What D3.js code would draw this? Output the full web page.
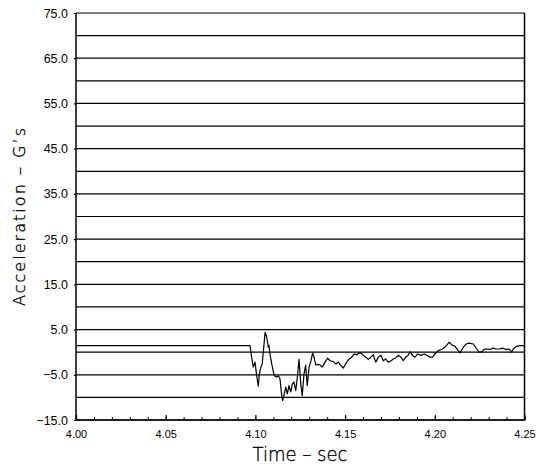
<!DOCTYPE html>
<html>
<head>
<meta charset="utf-8">
<script src="https://cdn.jsdelivr.net/npm/d3@7"></script>
<style>
  body { margin: 0; background: #fff; }
  text { font-family: "Liberation Sans", Arial, sans-serif; fill: #000; }
  .title { font-family: "DejaVu Sans", sans-serif; font-weight: 200; stroke: #000; stroke-width: 0.35; }
</style>
</head>
<body>
<div id="chart"></div>
<script>
// time (sec) and acceleration (G's)
var time = [
    4.0000, 4.0970, 4.0979, 4.0988, 4.0998, 4.1007, 4.1016, 4.1022, 4.1031, 4.1038,
    4.1044, 4.1054, 4.1063, 4.1072, 4.1076, 4.1081, 4.1091, 4.1105, 4.1119, 4.1128,
    4.1137, 4.1147, 4.1152, 4.1161, 4.1169, 4.1178, 4.1187, 4.1197, 4.1206, 4.1215,
    4.1225, 4.1234, 4.1243, 4.1253, 4.1261, 4.1271, 4.1280, 4.1289, 4.1299, 4.1308,
    4.1319, 4.1327, 4.1336, 4.1347, 4.1360, 4.1373, 4.1388, 4.1403, 4.1416, 4.1434,
    4.1448, 4.1462, 4.1477, 4.1490, 4.1509, 4.1523, 4.1537, 4.1551, 4.1565, 4.1577,
    4.1589, 4.1601, 4.1615, 4.1629, 4.1644, 4.1657, 4.1671, 4.1685, 4.1700, 4.1713,
    4.1726, 4.1741, 4.1756, 4.1769, 4.1782, 4.1797, 4.1812, 4.1824, 4.1838, 4.1852,
    4.1862, 4.1875, 4.1890, 4.1905, 4.1923, 4.1941, 4.1955, 4.1973, 4.1988, 4.2001,
    4.2019, 4.2038, 4.2057, 4.2081, 4.2094, 4.2113, 4.2125, 4.2140, 4.2159, 4.2174,
    4.2192, 4.2215, 4.2234, 4.2248, 4.2261, 4.2274, 4.2289, 4.2308, 4.2326, 4.2341,
    4.2360, 4.2378, 4.2397, 4.2415, 4.2428, 4.2437, 4.2456, 4.2475, 4.2500
];
var accel = [
    1.45, 1.45, -1.1, -3.3, -2.2, -5.2, -7.5, -4.8, -3.3, -2.6,
    0.0, 4.4, 3.3, 1.1, 1.5, -0.4, -2.6, -5.2, -5.5, -5.2,
    -5.9, -9.6, -10.7, -9.2, -7.7, -9.2, -7.4, -8.8, -7.0, -6.6,
    -8.5, -5.5, -1.6, -7.0, -9.6, -4.8, -2.9, -7.4, -3.3, -2.2,
    -0.2, -1.1, -2.8, -2.7, -2.8, -3.3, -2.2, -1.3, -1.9, -2.1,
    -2.6, -2.2, -3.0, -3.5, -2.2, -1.5, -1.1, -0.4, -0.6, -0.2,
    -0.2, -0.7, -1.1, -1.6, -1.1, -0.6, -2.2, -1.1, -0.7, -1.9,
    -1.5, -2.2, -1.9, -1.5, -1.3, -0.7, -1.1, -1.9, -1.1, -0.7,
    0.1, -0.7, -1.1, -0.4, -0.7, -0.4, -0.7, -1.1, -1.1, -0.4,
    0.35, 0.6, 1.1, 2.2, 1.6, 1.3, 0.6, -0.15, 1.1, 1.8,
    2.0, 1.8, 0.7, 0.0, 0.0, 0.6, 0.7, 0.6, 0.9, 0.7,
    0.7, 0.9, 0.6, 0.7, 0.0, 0.7, 1.3, 1.45, 1.45
];

var gridValues = d3.range(-15, 76, 5);
var yLabelValues = [75, 65, 55, 45, 35, 25, 15, 5, -5, -15];
var xLabelValues = [4.00, 4.05, 4.10, 4.15, 4.20, 4.25];
var xMinorValues = d3.range(0, 26).map(function (i) { return 4 + i * 0.01; });

var width = 537,
    height = 467;

var svg = d3.select("#chart")
    .append("svg")
    .attr("width", width)
    .attr("height", height);

var x = d3.scaleLinear().domain([4.0, 4.25]).range([76, 524.5]);
var y = d3.scaleLinear().domain([-15, 75]).range([420, 13]);

// horizontal grid lines
svg.append("g")
    .selectAll("line")
    .data(gridValues)
    .enter()
    .append("line")
    .attr("x1", x.range()[0])
    .attr("x2", x.range()[1])
    .attr("y1", function (d) { return y(d); })
    .attr("y2", function (d) { return y(d); })
    .attr("stroke", "#000")
    .attr("stroke-width", 1.2);

// minor ticks on time axis
svg.append("g")
    .attr("transform", "translate(0," + y(-15) + ")")
    .call(d3.axisBottom(x).tickValues(xMinorValues).tickSize(-3).tickFormat(""))
    .call(function (g) { g.select(".domain").remove(); });

// major ticks + labels on time axis
var xAxis = svg.append("g")
    .attr("transform", "translate(0," + y(-15) + ")")
    .call(d3.axisBottom(x).tickValues(xLabelValues).tickSizeInner(-5).tickSizeOuter(0)
        .tickPadding(10).tickFormat(d3.format(".2f")));
xAxis.select(".domain").remove();
xAxis.selectAll("text")
    .attr("font-size", 11)
    .attr("font-family", "Liberation Sans, Arial, sans-serif");
xAxis.selectAll("line").attr("stroke-width", 1.2);

// acceleration labels
var yAxis = svg.append("g")
    .attr("transform", "translate(" + x(4.0) + ",0)")
    .call(d3.axisLeft(y).tickValues(yLabelValues).tickSize(2).tickPadding(6)
        .tickFormat(d3.format(".1f")));
yAxis.select(".domain").remove();
yAxis.selectAll("text")
    .attr("font-size", 12.5)
    .attr("font-family", "Liberation Sans, Arial, sans-serif");
yAxis.selectAll("line").attr("stroke-width", 1.2);

// frame: left, bottom, right
svg.append("path")
    .attr("d", "M" + x(4.0) + "," + y(75) + "V" + y(-15) + "H" + x(4.25) + "V" + y(75))
    .attr("fill", "none")
    .attr("stroke", "#000")
    .attr("stroke-width", 1.5);

// the trace
var line = d3.line()
    .x(function (d, i) { return x(time[i]); })
    .y(function (d) { return y(d); });

svg.append("path")
    .datum(accel)
    .attr("d", line)
    .attr("fill", "none")
    .attr("stroke", "#000")
    .attr("stroke-width", 1.2)
    .attr("stroke-linejoin", "round");

// axis titles
svg.append("text")
    .attr("class", "title")
    .attr("x", 300)
    .attr("y", 461)
    .attr("text-anchor", "middle")
    .attr("font-size", 20)
    .attr("textLength", 95)
    .attr("lengthAdjust", "spacingAndGlyphs")
    .text("Time \u2013 sec");

svg.append("text")
    .attr("class", "title")
    .attr("transform", "translate(25,217) rotate(-90)")
    .attr("text-anchor", "middle")
    .attr("font-size", 16)
    .attr("textLength", 178)
    .attr("lengthAdjust", "spacing")
    .text("Acceleration \u2013 G\u2019s");
</script>
</body>
</html>
